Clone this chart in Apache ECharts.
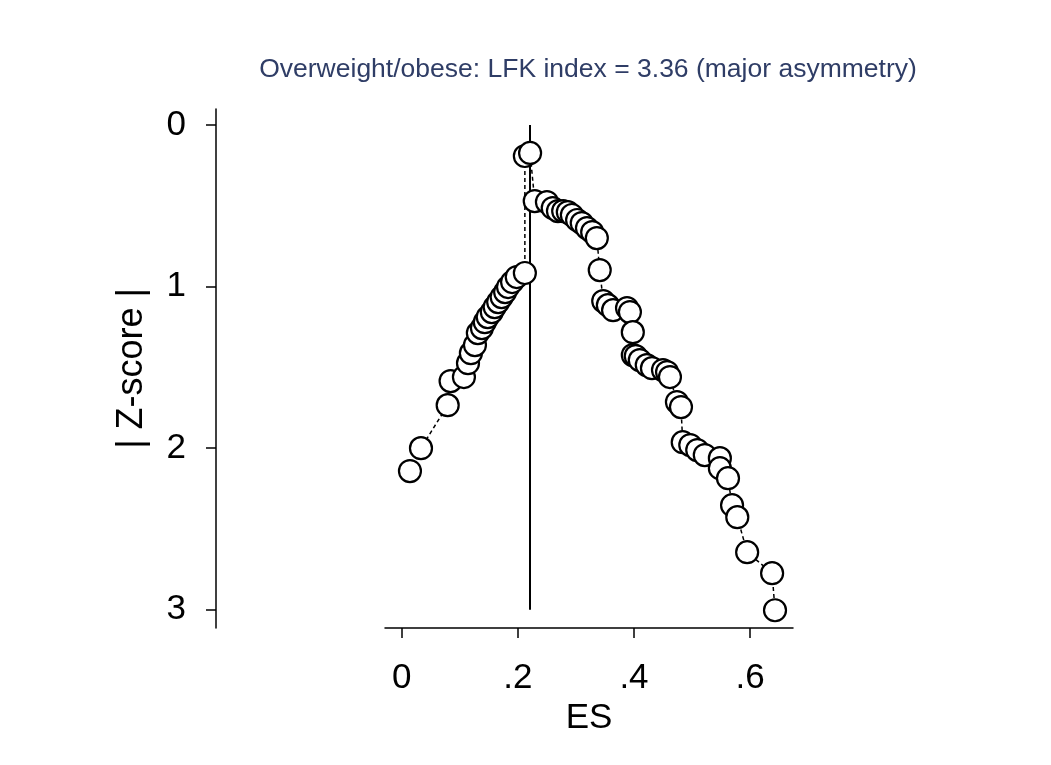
<!DOCTYPE html>
<html>
<head>
<meta charset="utf-8">
<script src="https://cdn.jsdelivr.net/npm/echarts@6/dist/echarts.min.js"></script>
<style>
  html, body { margin: 0; padding: 0; background: #ffffff; }
  #chart { width: 1051px; height: 765px; }
</style>
</head>
<body>
<div id="chart"></div>
<script>
// ---- Data ----
const titleText = 'Overweight/obese: LFK index = 3.36 (major asymmetry)';
const xAxisTitle = 'ES';
const yAxisTitle = '| Z-score |';

// effect sizes (ES), ordered as connected by the dashed curve
const esValues = [
  0.014, 0.033, 0.079, 0.084, 0.107, 0.114, 0.119, 0.126, 0.131, 0.138,
  0.143, 0.148, 0.155, 0.160, 0.166, 0.172, 0.178, 0.183, 0.190, 0.198,
  0.212, 0.212, 0.221,
  0.229, 0.250, 0.260, 0.269, 0.278, 0.286, 0.293, 0.302, 0.310, 0.319,
  0.328, 0.336, 0.341, 0.347, 0.355, 0.364, 0.388, 0.393, 0.398, 0.398,
  0.403, 0.410, 0.422, 0.431, 0.450, 0.457, 0.462, 0.474, 0.481, 0.484,
  0.497, 0.509, 0.522, 0.548, 0.548, 0.562, 0.569, 0.578, 0.595, 0.638,
  0.643
];
// |Z-score| for each point
const zValues = [
  2.142, 2.000, 1.734, 1.585, 1.560, 1.474, 1.412, 1.362, 1.288, 1.257,
  1.220, 1.189, 1.158, 1.127, 1.096, 1.065, 1.034, 1.003, 0.972, 0.941,
  0.916, 0.192, 0.173,
  0.471, 0.477, 0.514, 0.533, 0.533, 0.539, 0.557, 0.588, 0.607, 0.638,
  0.663, 0.700, 0.898, 1.090, 1.115, 1.146, 1.133, 1.158, 1.282, 1.424,
  1.430, 1.455, 1.486, 1.505, 1.517, 1.529, 1.560, 1.715, 1.746, 1.963,
  1.981, 2.012, 2.043, 2.062, 2.124, 2.186, 2.353, 2.427, 2.644, 2.774,
  3.003
];
const refLineES = 0.2207;      // vertical reference line (ES of the top point)
const refLineZ = [0, 3];       // its vertical extent in |Z|

const xTickValues = [0, 0.2, 0.4, 0.6];
const xTickLabels = ['0', '.2', '.4', '.6'];
const yTickValues = [0, 1, 2, 3];
const yTickLabels = ['0', '1', '2', '3'];

// ---- Chart ----
const points = esValues.map((x, i) => [x, zValues[i]]);
const chart = echarts.init(document.getElementById('chart'), null, { renderer: 'canvas' });
const fontFamily = '"Liberation Sans", Arial, Helvetica, sans-serif';

chart.setOption({
  animation: false,
  backgroundColor: '#ffffff',
  graphic: [{
    type: 'text',
    x: 588,
    y: 70,
    style: {
      text: titleText,
      fill: '#2f3d66',
      font: '26.5px ' + fontFamily,
      align: 'center',
      verticalAlign: 'middle'
    }
  }],
  grid: { left: 385, right: 258, top: 109, bottom: 137 },
  xAxis: {
    type: 'value',
    min: -0.029,
    max: 0.674,
    name: xAxisTitle,
    nameLocation: 'middle',
    nameGap: 70,
    nameTextStyle: { fontSize: 35, color: '#000', fontFamily: fontFamily },
    axisLine: { show: true, onZero: false, lineStyle: { color: '#000', width: 1.5 } },
    axisTick: { show: true, inside: false, length: 10, customValues: xTickValues, lineStyle: { color: '#000', width: 1.5 } },
    axisLabel: {
      show: true,
      customValues: xTickValues,
      formatter: v => xTickLabels[xTickValues.findIndex(t => Math.abs(t - v) < 1e-9)],
      fontSize: 35,
      color: '#000',
      fontFamily: fontFamily,
      margin: 33
    },
    splitLine: { show: false }
  },
  yAxis: {
    type: 'value',
    inverse: true,
    min: -0.099,
    max: 3.113,
    offset: 169,
    name: yAxisTitle,
    nameLocation: 'middle',
    nameGap: 66,
    nameTextStyle: { fontSize: 36, color: '#000', fontFamily: fontFamily },
    axisLine: { show: true, onZero: false, lineStyle: { color: '#000', width: 1.5 } },
    axisTick: { show: true, inside: false, length: 10, customValues: yTickValues, lineStyle: { color: '#000', width: 1.5 } },
    axisLabel: {
      show: true,
      customValues: yTickValues,
      formatter: v => yTickLabels[yTickValues.findIndex(t => Math.abs(t - v) < 1e-9)],
      fontSize: 35,
      color: '#000',
      fontFamily: fontFamily,
      margin: 30
    },
    splitLine: { show: false }
  },
  series: [{
    type: 'line',
    data: points,
    showSymbol: true,
    symbol: 'circle',
    symbolSize: 22,
    itemStyle: { color: '#ffffff', borderColor: '#000000', borderWidth: 2.2 },
    lineStyle: { color: '#000000', width: 1.5, type: [4, 3] },
    emphasis: { disabled: true },
    markLine: {
      silent: true,
      symbol: ['none', 'none'],
      label: { show: false },
      lineStyle: { color: '#000', width: 2, type: 'solid' },
      data: [[
        { coord: [refLineES, refLineZ[0]] },
        { coord: [refLineES, refLineZ[1]] }
      ]],
      z: 1
    },
    z: 3
  }]
});
</script>
</body>
</html>
